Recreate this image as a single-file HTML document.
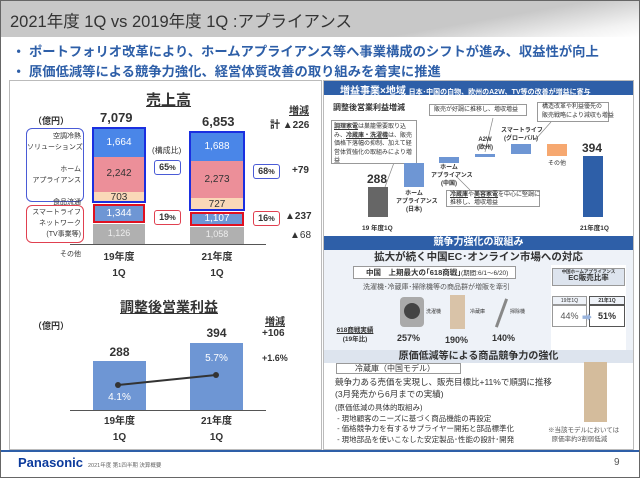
<!DOCTYPE html><html><head><meta charset="utf-8"><style>
*{margin:0;padding:0;box-sizing:border-box}
body{width:640px;height:480px;position:relative;overflow:hidden;background:#fff;font-family:"Liberation Sans","Noto Sans CJK JP",sans-serif;color:#333}
div,span{position:absolute}
.t{white-space:nowrap}
.b{font-weight:bold}
.c{text-align:center}
</style></head><body>
<div style="left:0;top:0;width:640px;height:478px;border:1px solid #666"></div>
<div style="left:1px;top:1px;width:638px;height:36px;background:linear-gradient(170deg,#c8c8c8 0%,#c8c8c8 70%,#f2f2f2 90%,#fff 100%)"></div>
<div class="t" style="left:10px;top:8px;font-size:16.5px;color:#333">2021年度 1Q vs 2019年度 1Q :アプライアンス</div>
<div class="t b" style="left:12px;top:41px;font-size:13.3px;color:#2e5fa8">・ ポートフォリオ改革により、ホームアプライアンス等へ事業構成のシフトが進み、収益性が向上</div>
<div class="t b" style="left:12px;top:61px;font-size:13.3px;color:#2e5fa8">・ 原価低減等による競争力強化、経営体質改善の取り組みを着実に推進</div>

<!-- left panel -->
<div style="left:9px;top:80px;width:313px;height:370px;border:1px solid #bbb"></div>
<div class="t b" style="left:146px;top:89px;font-size:15px;text-decoration:underline">売上高</div>
<div class="t b" style="left:33px;top:114px;font-size:9px">（億円）</div>
<div class="t b" style="left:100px;top:110px;font-size:13px">7,079</div>
<div class="t b" style="left:202px;top:114px;font-size:13px">6,853</div>
<div class="t b" style="left:289px;top:102px;font-size:10px;text-decoration:underline">増減</div>
<div class="t b" style="left:270px;top:116px;font-size:10px">計 ▲226</div>
<div style="left:26px;top:128px;width:58px;height:74px;border:1px solid #4a5bd6;border-radius:6px"></div>
<div class="t" style="left:27px;top:131px;width:54px;font-size:7px;text-align:right;line-height:11px">空調冷熱<br>ソリューションズ<br><br>ホーム<br>アプライアンス<br><br>食品流通</div>
<div style="left:26px;top:205px;width:58px;height:38px;border:1px solid #e04050;border-radius:6px"></div>
<div class="t" style="left:27px;top:207px;width:54px;font-size:7px;text-align:right;line-height:11px">スマートライフ<br>ネットワーク<br>(TV事業等)</div>
<div class="t" style="left:60px;top:249px;font-size:7px">その他</div>
<!-- bar 19 -->
<div style="left:93px;top:128px;width:52px;height:29px;background:#4a86e8"></div>
<div style="left:93px;top:157px;width:52px;height:35px;background:#ec8f99"></div>
<div style="left:93px;top:192px;width:52px;height:11px;background:#fad8b8"></div>
<div style="left:92px;top:127px;width:54px;height:76px;border:2px solid #1a2fe0"></div>
<div style="left:93px;top:204px;width:52px;height:19px;background:#6e96d4;border:2px solid #e01020"></div>
<div style="left:93px;top:224px;width:52px;height:20px;background:#b0b0b0"></div>
<div class="t c" style="left:93px;top:137px;width:52px;font-size:10px;color:#fff">1,664</div>
<div class="t c" style="left:93px;top:168px;width:52px;font-size:10px;color:#333">2,242</div>
<div class="t c" style="left:93px;top:192px;width:52px;font-size:10px">703</div>
<div class="t c" style="left:93px;top:208px;width:52px;font-size:10px;color:#fff">1,344</div>
<div class="t c" style="left:93px;top:228px;width:52px;font-size:9px;color:#eee">1,126</div>
<!-- bar 21 -->
<div style="left:190px;top:132px;width:54px;height:29px;background:#4a86e8"></div>
<div style="left:190px;top:161px;width:54px;height:37px;background:#ec8f99"></div>
<div style="left:190px;top:198px;width:54px;height:12px;background:#fad8b8"></div>
<div style="left:189px;top:131px;width:56px;height:80px;border:2px solid #1a2fe0"></div>
<div style="left:190px;top:212px;width:54px;height:14px;background:#6e96d4;border:2px solid #e01020"></div>
<div style="left:190px;top:227px;width:54px;height:17px;background:#b0b0b0"></div>
<div class="t c" style="left:190px;top:141px;width:54px;font-size:10px;color:#fff">1,688</div>
<div class="t c" style="left:190px;top:174px;width:54px;font-size:10px">2,273</div>
<div class="t c" style="left:190px;top:199px;width:54px;font-size:10px">727</div>
<div class="t c" style="left:190px;top:213px;width:54px;font-size:10px;color:#fff">1,107</div>
<div class="t c" style="left:190px;top:229px;width:54px;font-size:9px;color:#eee">1,058</div>
<div style="left:70px;top:244px;width:196px;height:1px;background:#555"></div>
<div class="t" style="left:152px;top:145px;font-size:8px">(構成比)</div>
<div class="t b c" style="left:154px;top:160px;width:27px;height:15px;border:1px solid #4a5bd6;border-radius:3px;font-size:9px;line-height:13px">65<small>%</small></div>
<div class="t b c" style="left:154px;top:210px;width:27px;height:15px;border:1px solid #e04050;border-radius:3px;font-size:9px;line-height:13px">19<small>%</small></div>
<div class="t b c" style="left:253px;top:164px;width:27px;height:15px;border:1px solid #4a5bd6;border-radius:3px;font-size:9px;line-height:13px">68<small>%</small></div>
<div class="t b c" style="left:253px;top:211px;width:27px;height:15px;border:1px solid #e04050;border-radius:3px;font-size:9px;line-height:13px">16<small>%</small></div>
<div class="t b" style="left:292px;top:165px;font-size:10px">+79</div>
<div class="t b" style="left:285px;top:211px;font-size:10px">▲237</div>
<div class="t" style="left:290px;top:230px;font-size:10px">▲68</div>
<div class="t b c" style="left:93px;top:250px;width:52px;font-size:10px;line-height:16px">19年度<br>1Q</div>
<div class="t b c" style="left:190px;top:250px;width:54px;font-size:10px;line-height:16px">21年度<br>1Q</div>

<div class="t b" style="left:120px;top:297px;font-size:14px;text-decoration:underline">調整後営業利益</div>
<div class="t b" style="left:33px;top:319px;font-size:9px">（億円）</div>
<div class="t b" style="left:265px;top:313px;font-size:10px;text-decoration:underline">増減</div>
<div class="t b" style="left:262px;top:328px;font-size:10px">+106</div>
<div class="t b" style="left:262px;top:353px;font-size:9px">+1.6%</div>
<div style="left:93px;top:361px;width:53px;height:50px;background:#6e96d4"></div>
<div style="left:190px;top:343px;width:53px;height:68px;background:#6e96d4"></div>
<div class="t b c" style="left:93px;top:345px;width:53px;font-size:12px">288</div>
<div class="t b c" style="left:190px;top:326px;width:53px;font-size:12px">394</div>
<div class="t c" style="left:93px;top:392px;width:53px;font-size:10px;color:#fff">4.1%</div>
<div class="t c" style="left:190px;top:353px;width:53px;font-size:10px;color:#fff">5.7%</div>
<svg style="position:absolute;left:0;top:0" width="640" height="480"><line x1="118" y1="385" x2="216" y2="375" stroke="#333" stroke-width="2"/><circle cx="118" cy="385" r="3" fill="#333"/><circle cx="216" cy="375" r="3" fill="#333"/><line x1="395" y1="160" x2="385" y2="187" stroke="#888" stroke-width="0.7"/><line x1="493" y1="118" x2="485" y2="152" stroke="#888" stroke-width="0.7"/><line x1="551" y1="122" x2="535" y2="140" stroke="#888" stroke-width="0.7"/><line x1="470" y1="190" x2="455" y2="175" stroke="#888" stroke-width="0.7"/></svg>
<div style="left:70px;top:410px;width:196px;height:1px;background:#555"></div>
<div class="t b c" style="left:93px;top:414px;width:53px;font-size:10px;line-height:16px">19年度<br>1Q</div>
<div class="t b c" style="left:190px;top:414px;width:53px;font-size:10px;line-height:16px">21年度<br>1Q</div>

<!-- right panel -->
<div style="left:323px;top:80px;width:311px;height:370px;border:1px solid #bbb"></div>
<div style="left:324px;top:81px;width:309px;height:14px;background:#2e5fa8"></div>
<div class="t b" style="left:340px;top:82px;font-size:10px;color:#fff">増益事業×地域 <span style="position:static;font-size:7px">日本･中国の白物、欧州のA2W、TV等の改善が増益に寄与</span></div>
<div class="t b" style="left:333px;top:102px;font-size:8px">調整後営業利益増減</div>
<div style="left:331px;top:120px;width:86px;height:44px;border:1px solid #999;background:#fff;font-size:6px;line-height:8.5px;padding:2px;white-space:normal;overflow:hidden"><b><u>調理家電</u></b>は巣籠需要取り込み、<b><u>冷蔵庫・洗濯機</u></b>は、販売価格下落幅の抑制、加えて経営体質強化の取組みにより増益</div>
<div class="t" style="left:429px;top:104px;width:98px;height:12px;border:1px solid #999;font-size:6px;padding-left:4px;line-height:10px">販売が好調に推移し、増収増益</div>
<div class="t" style="left:537px;top:102px;width:72px;height:20px;border:1px solid #999;font-size:6px;padding-left:4px;line-height:9px">構造改革や利益優先の<br>販売戦略により減収も増益</div>
<div style="left:368px;top:187px;width:20px;height:30px;background:#666"></div>
<div class="t b" style="left:367px;top:172px;font-size:12px">288</div>
<div style="left:404px;top:163px;width:20px;height:24px;background:#6e96d4"></div>
<div style="left:439px;top:157px;width:20px;height:6px;background:#6e96d4"></div>
<div style="left:475px;top:154px;width:20px;height:3px;background:#6e96d4"></div>
<div style="left:511px;top:144px;width:20px;height:10px;background:#6e96d4"></div>
<div style="left:547px;top:144px;width:20px;height:12px;background:#f6a870"></div>
<div style="left:583px;top:156px;width:20px;height:61px;background:#2e5fa8"></div>
<div class="t b" style="left:582px;top:141px;font-size:12px">394</div>
<div class="t b c" style="left:396px;top:190px;width:36px;font-size:6px;line-height:8px">ホーム<br>アプライアンス<br>(日本)</div>
<div class="t b c" style="left:431px;top:164px;width:36px;font-size:6px;line-height:8px">ホーム<br>アプライアンス<br>(中国)</div>
<div class="t b c" style="left:470px;top:136px;width:30px;font-size:6px;line-height:8px">A2W<br>(欧州)</div>
<div class="t b c" style="left:501px;top:127px;width:40px;font-size:6px;line-height:8px">スマートライフ<br>(グローバル)</div>
<div class="t" style="left:548px;top:158px;font-size:6px">その他</div>
<div class="t" style="left:446px;top:190px;width:94px;height:17px;border:1px solid #999;background:#fff;font-size:6px;line-height:8px;padding-left:3px"><b><u>冷蔵庫</u></b>や<b><u>美容家電</u></b>を中心に堅調に<br>推移し、増収増益</div>
<div class="t b" style="left:362px;top:222px;font-size:6.5px">19 年度1Q</div>
<div class="t b" style="left:580px;top:222px;font-size:6.5px">21年度1Q</div>

<div style="left:324px;top:236px;width:309px;height:14px;background:#2e5fa8"></div>
<div class="t b c" style="left:324px;top:236px;width:309px;font-size:10px;color:#fff;line-height:14px">競争力強化の取組み</div>
<div style="left:324px;top:250px;width:309px;height:100px;background:#eef2f8"></div>
<div class="t b c" style="left:324px;top:250px;width:309px;font-size:10.5px;line-height:14px">拡大が続く中国EC･オンライン市場への対応</div>
<div style="left:353px;top:266px;width:163px;height:13px;background:#fff;border:1px solid #999"></div>
<div class="t b" style="left:366px;top:267px;font-size:7.5px">中国　上期最大の｢618商戦｣<span style="position:static;font-weight:normal;font-size:6.5px">(期間:6/1～6/20)</span></div>
<div class="t" style="left:363px;top:282px;font-size:7px;color:#555">洗濯機･冷蔵庫･掃除機等の商品群が増販を牽引</div>
<div style="left:400px;top:297px;width:24px;height:30px;background:#aaa;border-radius:4px"></div>
<div style="left:404px;top:303px;width:16px;height:16px;background:#444;border-radius:50%"></div>
<div style="left:450px;top:295px;width:15px;height:34px;background:#d9c3a8"></div>
<div style="left:500px;top:298px;width:3px;height:30px;background:#888;transform:rotate(20deg)"></div>
<div class="t" style="left:426px;top:308px;font-size:5px">洗濯機</div>
<div class="t" style="left:470px;top:308px;font-size:5px">冷蔵庫</div>
<div class="t" style="left:510px;top:308px;font-size:5px">掃除機</div>
<div class="t b c" style="left:335px;top:326px;width:40px;font-size:6.5px;line-height:9px"><u>618商戦実績</u><br>(19年比)</div>
<div class="t b" style="left:397px;top:333px;font-size:9px">257%</div>
<div class="t b" style="left:445px;top:335px;font-size:9px">190%</div>
<div class="t b" style="left:492px;top:333px;font-size:9px">140%</div>
<div style="left:551px;top:265px;width:75px;height:85px;background:#fff"></div>
<div class="t b c" style="left:552px;top:268px;width:73px;height:18px;background:#dde4ee;border:1px solid #999;font-size:4.5px;line-height:6px">中国ホームアプライアンス<br><span style="position:static;font-size:7.5px">EC販売比率</span></div>
<div class="t c" style="left:552px;top:296px;width:35px;height:9px;border:1px solid #999;font-size:5px;background:#eef2f8">19年1Q</div>
<div class="t b c" style="left:589px;top:296px;width:36px;height:9px;border:1px solid #555;font-size:5px;background:#eef2f8">21年1Q</div>
<div class="t c" style="left:552px;top:305px;width:35px;height:22px;border:1px solid #999;font-size:9px;line-height:20px;color:#555">44%</div>
<div class="t b c" style="left:589px;top:305px;width:36px;height:22px;border:1px solid #555;font-size:9px;line-height:20px">51%</div>
<div class="t" style="left:582px;top:309px;font-size:10px;color:#9ab4dd">➡</div>
<div style="left:324px;top:350px;width:309px;height:13px;background:#dde4ee"></div>
<div class="t b c" style="left:324px;top:350px;width:309px;font-size:10px;line-height:13px">原価低減等による商品競争力の強化</div>
<div style="left:336px;top:363px;width:125px;height:11px;border:1px solid #999"></div>
<div class="t" style="left:355px;top:363px;font-size:8px">冷蔵庫（中国モデル）</div>
<div class="t" style="left:335px;top:376px;font-size:8.5px;line-height:12px">競争力ある売価を実現し、販売目標比+11%で順調に推移<br>(3月発売から6月までの実績)</div>
<div class="t" style="left:335px;top:403px;font-size:7.5px;line-height:10.5px">(原価低減の具体的取組み)<br>&nbsp;- 現地顧客のニーズに基づく商品機能の再設定<br>&nbsp;- 価格競争力を有するサプライヤー開拓と部品標準化<br>&nbsp;- 現地部品を使いこなした安定製品･性能の設計･開発</div>
<div style="left:584px;top:362px;width:23px;height:60px;background:#d4bc9c"></div>
<div class="t" style="left:548px;top:426px;font-size:6.5px;line-height:9px;color:#555">※当該モデルにおいては<br>&nbsp;&nbsp;原価率約3割弱低減</div>

<!-- footer -->
<div style="left:1px;top:450px;width:638px;height:2px;background:#2e5fa8"></div>
<div class="t b" style="left:18px;top:455px;font-size:13px;color:#0b3a9c">Panasonic</div>
<div class="t" style="left:88px;top:461px;font-size:5.5px;color:#666">2021年度 第1四半期 決算概要</div>
<div class="t" style="left:614px;top:457px;font-size:10px;color:#555">9</div>
</body></html>
